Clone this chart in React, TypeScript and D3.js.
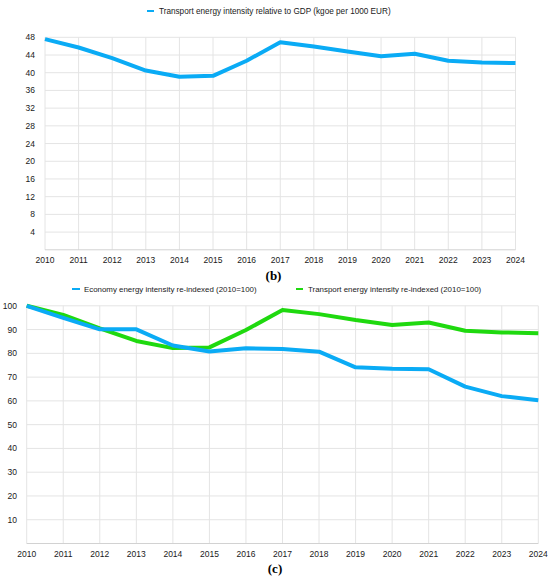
import * as d3 from 'd3';

// ── Data ───────────────────────────────────────────────────
const years = [2010, 2011, 2012, 2013, 2014, 2015, 2016, 2017, 2018, 2019, 2020, 2021, 2022, 2023, 2024];

// (b) kgoe per 1000 EUR
const transportGdp = [47.6, 45.7, 43.3, 40.5, 39.1, 39.3, 42.7, 46.9, 45.9, 44.8, 43.7, 44.3, 42.7, 42.3, 42.2];

// (c) re-indexed, 2010 = 100
const economyIdx = [100, 94.9, 90.1, 90.1, 83.3, 80.8, 82.1, 81.8, 80.7, 74.1, 73.5, 73.3, 66.0, 62.0, 60.3];
const transportIdx = [100, 96.2, 90.5, 85.2, 82.2, 82.5, 89.8, 98.2, 96.5, 94.0, 91.9, 93.0, 89.5, 88.8, 88.5];

const yTicksB = [4, 8, 12, 16, 20, 24, 28, 32, 36, 40, 44, 48];
const yTicksC = [10, 20, 30, 40, 50, 60, 70, 80, 90, 100];

const legendB = 'Transport energy intensity relative to GDP (kgoe per 1000 EUR)';
const legendC1 = 'Economy energy intensity re-indexed (2010=100)';
const legendC2 = 'Transport energy intensity re-indexed (2010=100)';

const BLUE = '#0aabf5';
const GREEN = '#1fd90f';
const GRID = '#e4e4e4';
const FONT = '"Liberation Sans", Arial, Helvetica, sans-serif';
const SERIF = '"Liberation Serif", "Times New Roman", serif';

interface PanelProps {
  x0: number; x1: number; y0: number; y1: number;
  yMax: number; yTicks: number[];
  series: { values: number[]; color: string }[];
  labelX: number; xLabelY: number;
}

function Panel({ x0, x1, y0, y1, yMax, yTicks, series, labelX, xLabelY }: PanelProps) {
  const x = d3.scaleLinear().domain([years[0], years[years.length - 1]]).range([x0, x1]);
  const y = d3.scaleLinear().domain([0, yMax]).range([y1, y0]);
  const line = d3.line<number>()
    .x((_, i) => x(years[i]))
    .y(d => y(d));

  return (
    <g>
      {/* horizontal grid */}
      {yTicks.map(t => (
        <line key={'h' + t} x1={x0} x2={x1} y1={y(t)} y2={y(t)} stroke={GRID} strokeWidth={1} />
      ))}
      {/* vertical grid */}
      {years.map(yr => (
        <line key={'v' + yr} x1={x(yr)} x2={x(yr)} y1={y(yMax)} y2={y(0)} stroke={GRID} strokeWidth={1} />
      ))}
      <line x1={x0} x2={x1} y1={y(0)} y2={y(0)} stroke="#d2d2d2" strokeWidth={1} />

      {/* y labels */}
      {yTicks.map(t => (
        <text key={'yl' + t} x={labelX} y={y(t)} dy="0.35em" textAnchor="end"
          fontSize={8.5} fill="#1a1a1a" fontFamily={FONT}>{t}</text>
      ))}
      {/* x labels */}
      {years.map(yr => (
        <text key={'xl' + yr} x={x(yr)} y={xLabelY} textAnchor="middle"
          fontSize={8.5} fill="#1a1a1a" fontFamily={FONT}>{yr}</text>
      ))}

      {series.map((s, i) => (
        <path key={i} d={line(s.values) ?? ''} fill="none" stroke={s.color}
          strokeWidth={4} strokeLinejoin="round" strokeLinecap="butt" />
      ))}
    </g>
  );
}

export default function App() {
  return (
    <div style={{ position: 'absolute', left: 0, top: 0 }}>
      <svg width={550} height={582} style={{ display: 'block', background: '#fff' }}>
        {/* ── (b) ── */}
        <line x1={147} x2={154} y1={11} y2={11} stroke={BLUE} strokeWidth={2} />
        <text x={159} y={14} fontSize={8.2} fill="#1a1a1a" fontFamily={FONT}>{legendB}</text>
        <Panel x0={45} x1={515.5} y0={37.3} y1={249.8} yMax={48} yTicks={yTicksB}
          series={[{ values: transportGdp, color: BLUE }]} labelX={35} xLabelY={263} />
        <text x={273.5} y={279.5} textAnchor="middle" fontSize={13} fontWeight="bold"
          fontFamily={SERIF} fill="#000">(b)</text>

        {/* ── (c) ── */}
        <line x1={72} x2={80} y1={289} y2={289} stroke={BLUE} strokeWidth={2} />
        <text x={84} y={292} fontSize={7.9} fill="#1a1a1a" fontFamily={FONT}>{legendC1}</text>
        <line x1={296} x2={303} y1={289} y2={289} stroke={GREEN} strokeWidth={2} />
        <text x={308} y={292} fontSize={7.9} fill="#1a1a1a" fontFamily={FONT}>{legendC2}</text>
        <Panel x0={26.7} x1={538.3} y0={305.8} y1={543.5} yMax={100} yTicks={yTicksC}
          series={[{ values: transportIdx, color: GREEN }, { values: economyIdx, color: BLUE }]}
          labelX={17} xLabelY={557} />
        <text x={275} y={573} textAnchor="middle" fontSize={13} fontWeight="bold"
          fontFamily={SERIF} fill="#000">(c)</text>
      </svg>
    </div>
  );
}
